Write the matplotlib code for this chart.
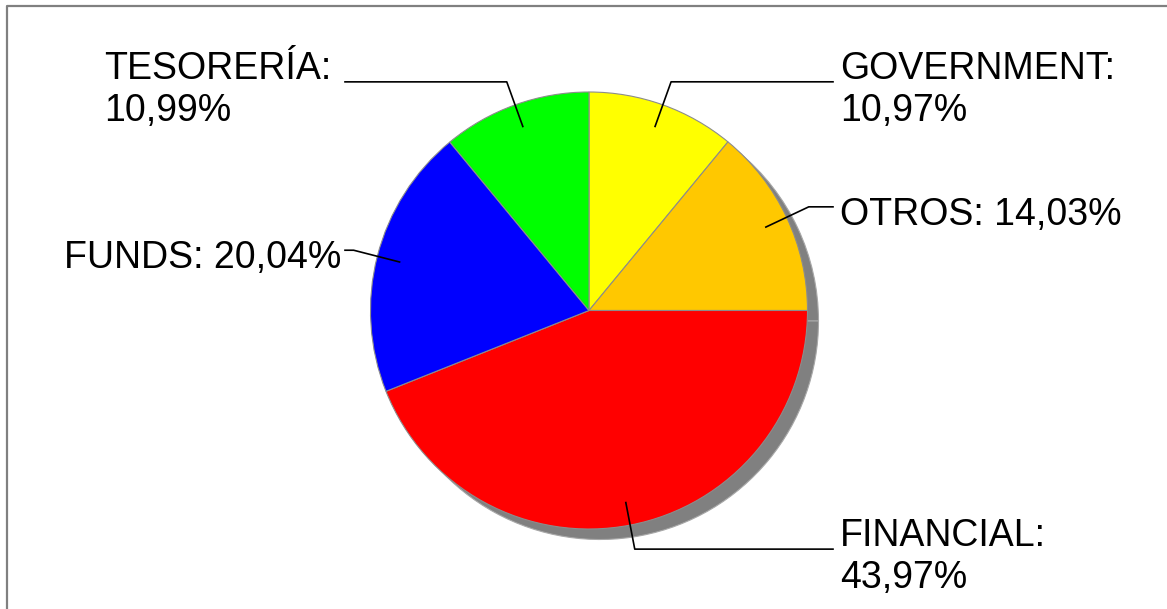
import numpy as np
import matplotlib

matplotlib.use("Agg")
import matplotlib.pyplot as plt

# Slices, clockwise from 12 o'clock
categories = ["GOVERNMENT", "OTROS", "FINANCIAL", "FUNDS", "TESORERÍA"]
shares = [10.97, 14.03, 43.97, 20.04, 10.99]
colors = ["#FFFF00", "#FFC800", "#FF0000", "#0000FF", "#00FF00"]
two_line = [True, False, True, False, True]

W, H = 1167, 609
CX, CY = 589, H - 310.5  # pie centre in pixel units (y up)
R = 218.5
SHADOW = (11, -10.5)

plt.rcParams["font.family"] = ["Liberation Sans", "DejaVu Sans"]

fig = plt.figure(figsize=(W / 100, H / 100), dpi=100)
ax = fig.add_axes([0, 0, 1, 1])

# frame (only top and left edges fall inside the picture)
ax.plot([7, 7, W], [0, H - 6, H - 6], color="#808080", lw=1.6, solid_capstyle="butt")

# shadow, then the pie itself
ax.pie(shares, startangle=90, counterclock=False, radius=R,
       center=(CX + SHADOW[0], CY + SHADOW[1]), colors=["#808080"] * len(shares),
       wedgeprops=dict(edgecolor="#a8a8a8", linewidth=0.8), frame=True)
wedges, _ = ax.pie(shares, startangle=90, counterclock=False, radius=R,
                   center=(CX, CY), colors=colors,
                   wedgeprops=dict(edgecolor="#8c8c8c", linewidth=0.8), frame=True)
ax.set_xlim(0, W)
ax.set_ylim(0, H)
ax.set_aspect("equal")
ax.axis("off")

for w, name, val, two in zip(wedges, categories, shares, two_line):
    mid = np.deg2rad((w.theta1 + w.theta2) / 2)
    ax0, ay0 = CX + 0.895 * R * np.cos(mid), CY + 0.895 * R * np.sin(mid)
    ex, ey = CX + 1.112 * R * np.cos(mid), CY + 1.112 * R * np.sin(mid)
    right = np.cos(mid) > 0
    hx = 833 if right else 345
    ax.plot([ax0, ex, hx], [ay0, ey, ey], color="black", lw=1.2)
    pct = f"{val:.2f}".replace(".", ",") + "%"
    label = name + (":\n" if two else ": ") + pct
    if right:
        tx = 840
    else:
        tx = 104 if two else 64
    ty = ey - 39 if two else ey - 18
    ax.text(tx, ty, label, ha="left", va="baseline", fontsize=27,
            linespacing=1.22, color="black")

fig.savefig("out.png", dpi=100)
